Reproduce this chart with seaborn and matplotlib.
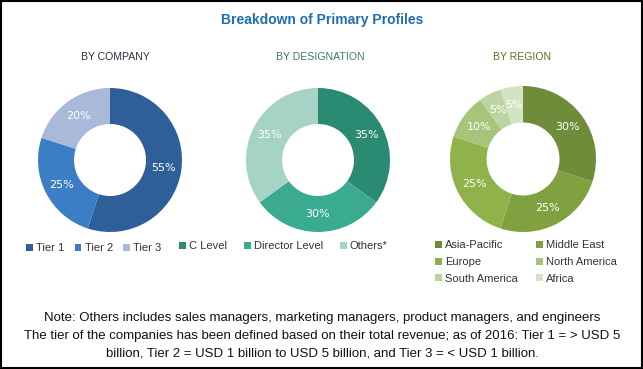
import matplotlib
matplotlib.use("Agg")
import numpy as np
import matplotlib.pyplot as plt
import seaborn as sns
from matplotlib.patches import Rectangle

# --- data ---
company_labels = ["Tier 1", "Tier 2", "Tier 3"]
company_values = [55, 25, 20]
company_colors = ["#2f5f98", "#3b7ec6", "#a9b9d9"]

designation_labels = ["C Level", "Director Level", "Others*"]
designation_values = [35, 30, 35]
designation_colors = ["#2a8a72", "#3aab90", "#a6d3c6"]

region_labels = ["Asia-Pacific", "Middle East", "Europe", "North America", "South America", "Africa"]
region_values = [30, 25, 25, 10, 5, 5]
region_colors = ["#6f8c3a", "#7fa13f", "#8fb24b", "#a7c47a", "#bcd49f", "#d3e3c3"]

sns.set_theme(style="white")
plt.rcParams['font.family'] = ['Liberation Sans', 'DejaVu Sans']

W, H = 643, 369
fig = plt.figure(figsize=(W / 100, H / 100), dpi=100)
fig.patch.set_facecolor("white")


def px_axes(cx, cy, r):
    # axes in pixel coords, centred on (cx, cy) with radius r
    return fig.add_axes([(cx - r) / W, 1 - (cy + r) / H, 2 * r / W, 2 * r / H])


def donut(cx, cy, r, values, colors):
    ax = px_axes(cx, cy, r)
    wedges, texts = ax.pie(values, colors=colors, startangle=90, counterclock=False,
                           radius=1.0, wedgeprops=dict(width=0.5, edgecolor="none"))
    for w, v in zip(wedges, values):
        ang = np.deg2rad((w.theta1 + w.theta2) / 2)
        ax.text(0.75 * np.cos(ang), 0.75 * np.sin(ang), f"{v}%", color="white",
                ha="center", va="center", fontsize=8, family="DejaVu Sans")
    ax.set_xlim(-1, 1)
    ax.set_ylim(-1, 1)
    ax.set_aspect("equal")
    ax.axis("off")
    return wedges


w1 = donut(110, 160, 72, company_values, company_colors)
w2 = donut(318, 160, 72, designation_values, designation_colors)
w3 = donut(523, 159, 73, region_values, region_colors)

# titles
fig.text(322 / W, 1 - 20 / H, "Breakdown of Primary Profiles", ha="center", va="center",
         fontsize=10, fontweight="bold", color="#1f6db4")
fig.text(115 / W, 1 - 57 / H, "BY COMPANY", ha="center", va="center", fontsize=7.6, color="#2a2f45")
fig.text(320 / W, 1 - 57 / H, "BY DESIGNATION", ha="center", va="center", fontsize=7.6, color="#3c7a6c")
fig.text(522 / W, 1 - 57 / H, "BY REGION", ha="center", va="center", fontsize=7.6, color="#6b6a22")

# legends
leg_kw = dict(frameon=False, fontsize=8, handlelength=0.6, handleheight=0.6,
              handletextpad=0.3, borderaxespad=0, labelcolor="#333333")
fig.legend(w1, company_labels, loc="center left", bbox_to_anchor=(22 / W, 1 - 248 / H),
           ncol=3, columnspacing=0.9, **leg_kw)
fig.legend(w2, designation_labels, loc="center left", bbox_to_anchor=(175 / W, 1 - 246 / H),
           ncol=3, columnspacing=1.5, **leg_kw)
# row-wise order for a two-column legend
order = [0, 2, 4, 1, 3, 5]
fig.legend([w3[i] for i in order], [region_labels[i] for i in order], loc="upper left",
           bbox_to_anchor=(431 / W, 1 - 236 / H), ncol=2, columnspacing=1.6,
           labelspacing=0.6, **leg_kw)

# notes
note_lines = [
    "Note: Others includes sales managers, marketing managers, product managers, and engineers",
    "The tier of the companies has been defined based on their total revenue; as of 2016: Tier 1 = > USD 5",
    "billion, Tier 2 = USD 1 billion to USD 5 billion, and Tier 3 = < USD 1 billion.",
]
for i, line in enumerate(note_lines):
    fig.text(322 / W, 1 - (318 + 17.5 * i) / H, line, ha="center", va="center",
             fontsize=9.5, color="#111111")

# outer border
fig.patches.append(Rectangle((0.001, 0.002), 0.997, 0.995, transform=fig.transFigure,
                             fill=False, edgecolor="black", linewidth=1.5))

fig.savefig("out.png", dpi=100)
